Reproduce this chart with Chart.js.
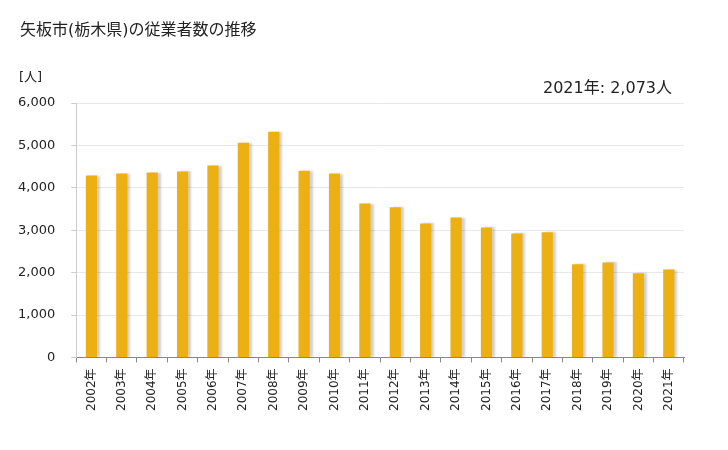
<!DOCTYPE html>
<html>
<head>
    <meta charset="utf-8">
    <title>矢板市(栃木県)の従業者数の推移</title>
    <script src="https://cdn.jsdelivr.net/npm/chart.js"></script>
    <style>
        body { margin: 0; background: #fff; font-family: 'DejaVu Sans', 'Noto Sans CJK JP', sans-serif; }
        #wrap { position: relative; width: 728px; height: 450px; }
        #title { position: absolute; left: 20px; top: 16px; font-size: 16px; color: #222; }
        #unit { position: absolute; left: 19px; top: 66px; font-size: 13px; color: #222; }
        #latest { position: absolute; right: 56px; top: 74px; font-size: 16px; color: #222; }
        canvas { position: absolute; left: 0; top: 0; }
    </style>
</head>
<body>
<div id="wrap">
    <canvas id="workersChart" width="728" height="450"></canvas>
    <div id="title">矢板市(栃木県)の従業者数の推移</div>
    <div id="unit">[人]</div>
    <div id="latest">2021年: 2,073人</div>
</div>
<script>
    const years = ['2002年', '2003年', '2004年', '2005年', '2006年', '2007年', '2008年', '2009年', '2010年', '2011年',
                   '2012年', '2013年', '2014年', '2015年', '2016年', '2017年', '2018年', '2019年', '2020年', '2021年'];
    const workers = [4290, 4335, 4360, 4385, 4525, 5065, 5325, 4405, 4335, 3630,
                     3540, 3160, 3300, 3065, 2925, 2950, 2195, 2240, 1985, 2073];
    const yTicks = [0, 1000, 2000, 3000, 4000, 5000, 6000];

    // grey drop shadow to the right of each bar
    const barShadow = {
        id: 'barShadow',
        beforeDatasetsDraw(chart) {
            const ctx = chart.ctx;
            ctx.save();
            ctx.shadowColor = 'rgba(0, 0, 0, 0.18)';
            ctx.shadowOffsetX = 3;
            ctx.shadowOffsetY = 0;
            ctx.shadowBlur = 2;
        },
        afterDatasetsDraw(chart) {
            chart.ctx.restore();
        }
    };

    const ctx = document.getElementById('workersChart').getContext('2d');
    new Chart(ctx, {
        type: 'bar',
        data: {
            labels: years,
            datasets: [{
                data: workers,
                backgroundColor: '#edb012',
                barPercentage: 0.37,
                categoryPercentage: 1.0
            }]
        },
        options: {
            responsive: false,
            animation: false,
            layout: { padding: { left: 2, right: 44, top: 103, bottom: 33 } },
            plugins: { legend: { display: false }, tooltip: { enabled: false } },
            scales: {
                x: {
                    grid: { display: true, drawOnChartArea: false, offset: true, tickLength: 5, color: '#888' },
                    border: { color: '#888' },
                    ticks: {
                        color: '#222', minRotation: 90, maxRotation: 90, padding: 6,
                        font: { family: "'DejaVu Sans', 'Noto Sans CJK JP'", size: 12 }
                    }
                },
                y: {
                    min: 0,
                    max: 6000,
                    afterBuildTicks(axis) { axis.ticks = yTicks.map(v => ({ value: v })); },
                    grid: { color: '#e8e8e8', tickLength: 5, tickColor: '#ccc' },
                    border: { color: '#ccc' },
                    ticks: {
                        color: '#222', padding: 16,
                        font: { family: "'DejaVu Sans'", size: 13 },
                        callback: v => v.toLocaleString('en-US')
                    }
                }
            }
        },
        plugins: [barShadow]
    });
</script>
</body>
</html>
